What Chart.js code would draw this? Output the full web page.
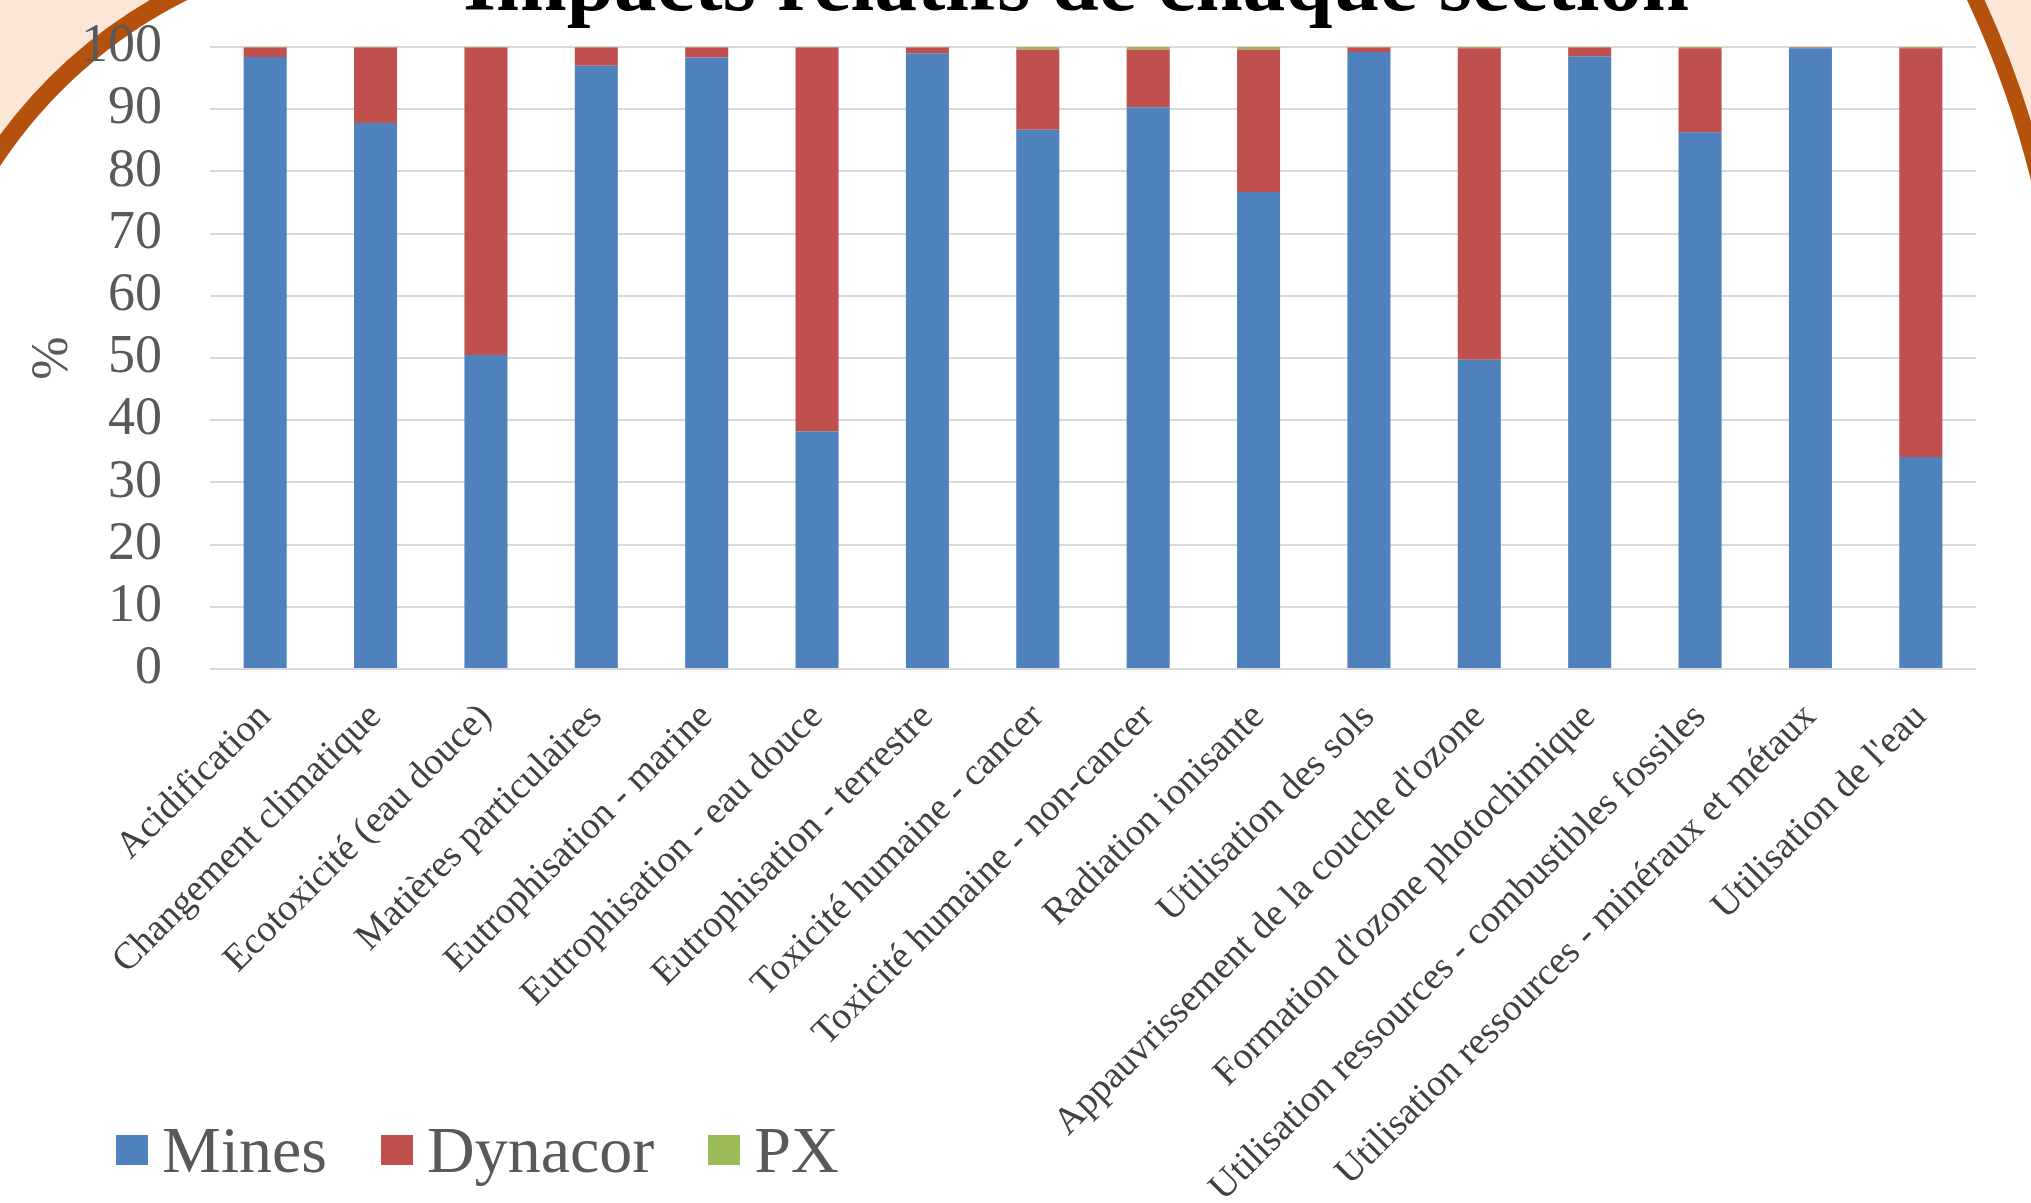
<!DOCTYPE html>
<html lang="fr">
<head>
<meta charset="utf-8">
<title>Impacts relatifs de chaque section</title>
<script src="https://cdn.jsdelivr.net/npm/chart.js@4.4.1/dist/chart.umd.min.js"></script>
<style>
  html, body { margin: 0; padding: 0; }
  body { width: 2031px; height: 1203px; overflow: hidden; background: #ffffff; position: relative; }
  #deco { position: absolute; left: 0; top: 0; }
  #wrap { position: absolute; left: 0; top: 0; width: 2031px; height: 1203px; }
  #title {
    position: absolute; left: 0; width: 2152px; top: -61px; text-align: center;
    font-family: "Liberation Serif", "Times New Roman", serif; font-weight: bold;
    font-size: 85px; line-height: 85px; color: #000; white-space: nowrap;
  }
  #legend {
    position: absolute; left: 116px; top: 1117px; display: flex; align-items: center;
    font-family: "Liberation Serif", "Times New Roman", serif; font-size: 66px; line-height: 66px; color: #595959;
  }
  #legend .item { display: flex; align-items: center; margin-right: 54px; }
  #legend .box { width: 32px; height: 30px; margin-right: 14px; }
</style>
</head>
<body>
<svg id="deco" width="2031" height="1203" viewBox="0 0 2031 1203">
  <path d="M0,0 L149.7,0 A500,500 0 0 0 0,134.8 Z" fill="#fbe6d8"/>
  <path d="M149.7,0 L187.4,0 A482,482 0 0 0 0,166.3 L0,134.8 A500,500 0 0 1 149.7,0 Z" fill="#b4520d"/>
  <path d="M2031,0 L1984.7,0 A1000,1000 0 0 1 2031,121 Z" fill="#fbe6d8"/>
  <path d="M1967,0 L1984.7,0 A1000,1000 0 0 1 2031,121 L2031,180.6 A984,984 0 0 0 1967,0 Z" fill="#b4520d"/>
</svg>
<div id="wrap">
  <canvas id="chart" width="2031" height="1203"></canvas>
</div>
<div id="title">Impacts relatifs de chaque section</div>
<div id="legend"></div>
<script>
const categories = [
  "Acidification",
  "Changement climatique",
  "Ecotoxicité (eau douce)",
  "Matières particulaires",
  "Eutrophisation - marine",
  "Eutrophisation - eau douce",
  "Eutrophisation - terrestre",
  "Toxicité humaine - cancer",
  "Toxicité humaine - non-cancer",
  "Radiation ionisante",
  "Utilisation des sols",
  "Appauvrissement de la couche d'ozone",
  "Formation d'ozone photochimique",
  "Utilisation ressources - combustibles fossiles",
  "Utilisation ressources - minéraux et métaux",
  "Utilisation de l'eau"
];
const mines   = [98.4, 87.8, 50.5, 97.0, 98.3, 38.2, 99.0, 86.7, 90.3, 76.7, 99.2, 49.7, 98.5, 86.3, 99.8, 34.1];
const dynacor = [1.5, 12.1, 49.4, 2.9, 1.6, 61.7, 0.9, 12.9, 9.3, 22.9, 0.7, 50.1, 1.4, 13.5, 0.1, 65.7];
const px      = [0.1, 0.1, 0.1, 0.1, 0.1, 0.1, 0.1, 0.4, 0.4, 0.4, 0.1, 0.2, 0.1, 0.2, 0.1, 0.2];
const yTicks  = [0, 10, 20, 30, 40, 50, 60, 70, 80, 90, 100];
const seriesNames = ["Mines", "Dynacor", "PX"];
const axisTitle = "%";

const serif = "'Liberation Serif', 'Times New Roman', serif";

const htmlLegend = {
  id: 'htmlLegend',
  afterUpdate(chart) {
    const el = document.getElementById('legend');
    el.innerHTML = '';
    const items = chart.options.plugins.legend.labels.generateLabels(chart);
    items.forEach(it => {
      const d = document.createElement('div'); d.className = 'item';
      const b = document.createElement('span'); b.className = 'box'; b.style.background = it.fillStyle;
      const t = document.createElement('span'); t.textContent = it.text;
      d.appendChild(b); d.appendChild(t); el.appendChild(d);
    });
  }
};

new Chart(document.getElementById('chart'), {
  type: 'bar',
  data: {
    labels: categories,
    datasets: [
      { label: seriesNames[0], data: mines, backgroundColor: '#4f81bd', borderWidth: 0 },
      { label: seriesNames[1], data: dynacor, backgroundColor: '#c0504d', borderWidth: 0 },
      { label: seriesNames[2], data: px, backgroundColor: '#9bbb59', borderWidth: 0 }
    ]
  },
  options: {
    responsive: false,
    animation: false,
    layout: { padding: { left: 0, top: 47, right: 55, bottom: 0 } },
    datasets: { bar: { categoryPercentage: 1.0, barPercentage: 0.39 } },
    plugins: {
      legend: { display: false },
      title: { display: false },
      tooltip: { enabled: false }
    },
    scales: {
      x: {
        stacked: true,
        grid: { display: false },
        border: { display: false },
        ticks: {
          autoSkip: false, minRotation: 45, maxRotation: 45, padding: 18,
          color: '#404040', font: { family: serif, size: 38 }
        },
        afterFit(scale) { scale.height = 534; }
      },
      y: {
        stacked: true,
        min: 0, max: 100,
        afterBuildTicks(scale) { scale.ticks = yTicks.map(v => ({ value: v })); },
        grid: { color: '#d9d9d9', lineWidth: 2, drawTicks: false },
        border: { display: false },
        ticks: { autoSkip: false, stepSize: 10, padding: 48, color: '#595959', font: { family: serif, size: 54 } },
        title: {
          display: true, text: axisTitle, color: '#595959',
          font: { family: serif, size: 52 }, padding: { top: 22, bottom: 0 }
        },
        afterFit(scale) { scale.width = 210; scale.paddingTop = 0; scale.paddingBottom = 0; }
      }
    }
  },
  plugins: [htmlLegend]
});
</script>
</body>
</html>
